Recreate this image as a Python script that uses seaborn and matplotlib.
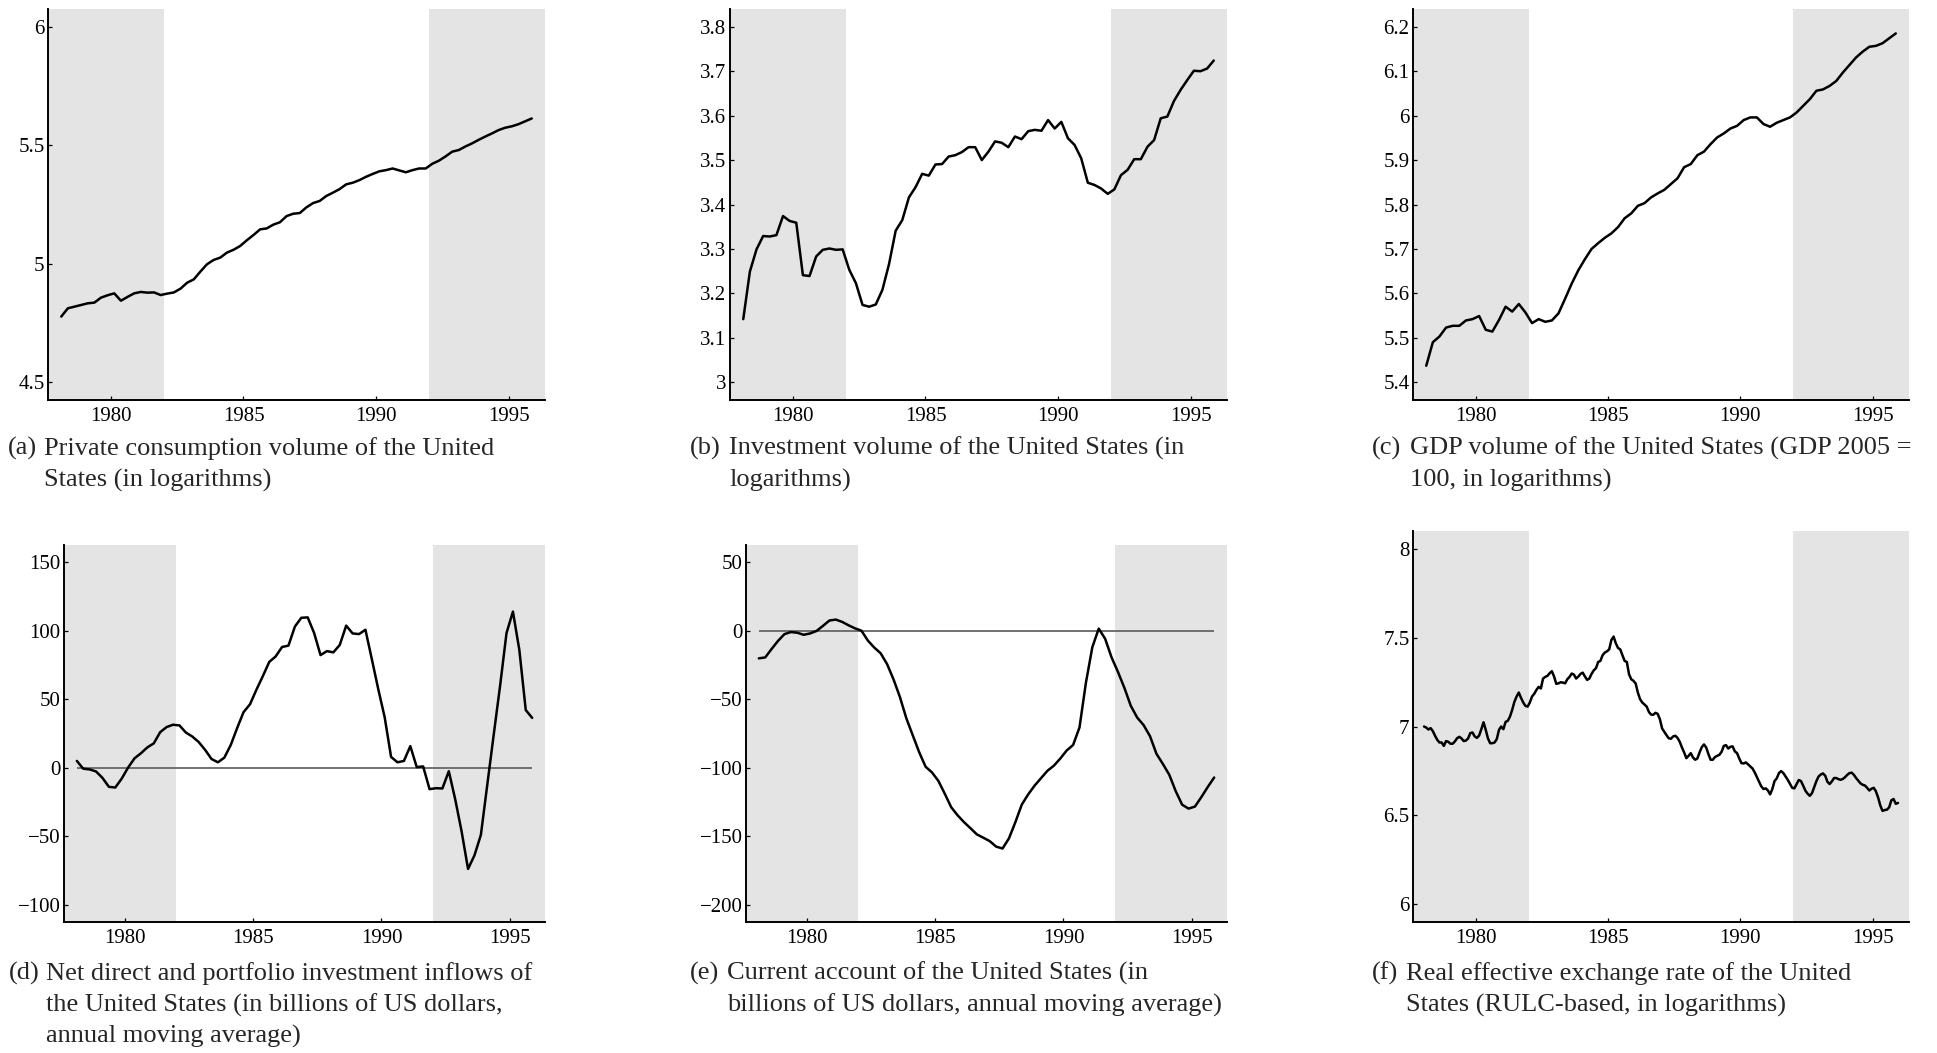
import numpy as np
import pandas as pd
import matplotlib
matplotlib.use("Agg")
import matplotlib.pyplot as plt
from matplotlib.ticker import FixedLocator, FuncFormatter
import seaborn as sns

# ---------------------------------------------------------------------------
# Data: United States, 1978-1995 (quarterly series; monthly exchange rate)
# ---------------------------------------------------------------------------
quarters = 1978.125 + 0.25 * np.arange(72)
months = 1978 + (np.arange(216) + 0.5) / 12

consumption = [
    4.777, 4.812, 4.819, 4.826, 4.833, 4.836, 4.857, 4.867, 4.875, 4.844,
    4.860, 4.875, 4.881, 4.878, 4.879, 4.868, 4.874, 4.879, 4.895, 4.920,
    4.934, 4.967, 4.998, 5.016, 5.026, 5.047, 5.059, 5.075, 5.099, 5.121,
    5.145, 5.149, 5.165, 5.175, 5.201, 5.211, 5.214, 5.238, 5.256, 5.265,
    5.286, 5.300, 5.315, 5.335, 5.342, 5.353, 5.367, 5.379, 5.390, 5.395,
    5.402, 5.394, 5.386, 5.395, 5.402, 5.402, 5.422, 5.435, 5.453, 5.473,
    5.480, 5.495, 5.508, 5.523, 5.537, 5.550, 5.564, 5.574, 5.580, 5.589,
    5.601, 5.613,
]

investment = [
    3.142, 3.249, 3.299, 3.329, 3.328, 3.331, 3.374, 3.363, 3.359, 3.241,
    3.239, 3.283, 3.298, 3.301, 3.298, 3.299, 3.253, 3.223, 3.174, 3.170,
    3.175, 3.208, 3.266, 3.341, 3.365, 3.416, 3.439, 3.469, 3.465, 3.490,
    3.491, 3.508, 3.511, 3.518, 3.529, 3.529, 3.500, 3.519, 3.542, 3.539,
    3.529, 3.553, 3.547, 3.565, 3.568, 3.566, 3.590, 3.571, 3.586, 3.549,
    3.534, 3.504, 3.449, 3.444, 3.436, 3.424, 3.434, 3.466, 3.478, 3.502,
    3.502, 3.530, 3.545, 3.594, 3.598, 3.633, 3.658, 3.680, 3.701, 3.700,
    3.706, 3.724,
]

gdp = [
    5.437, 5.490, 5.503, 5.523, 5.527, 5.527, 5.539, 5.542, 5.549, 5.518,
    5.514, 5.540, 5.570, 5.559, 5.576, 5.557, 5.533, 5.542, 5.536, 5.539,
    5.555, 5.588, 5.622, 5.652, 5.677, 5.700, 5.713, 5.725, 5.735, 5.749,
    5.769, 5.780, 5.797, 5.803, 5.816, 5.825, 5.833, 5.846, 5.859, 5.884,
    5.891, 5.911, 5.919, 5.936, 5.951, 5.960, 5.971, 5.977, 5.990, 5.996,
    5.996, 5.981, 5.975, 5.984, 5.990, 5.996, 6.007, 6.022, 6.037, 6.056,
    6.059, 6.067, 6.078, 6.097, 6.114, 6.131, 6.144, 6.155, 6.157, 6.163,
    6.174, 6.185,
]

capital_inflows = [
    5.0, -0.7, -1.2, -2.7, -7.4, -13.9, -14.4, -7.9, 0.2, 6.9,
    10.6, 14.9, 17.8, 26.0, 29.7, 31.4, 30.9, 25.7, 22.8, 18.8,
    13.1, 6.4, 4.0, 7.4, 16.6, 29.0, 40.6, 46.3, 56.9, 66.8,
    77.2, 81.2, 88.1, 89.1, 103.0, 109.4, 109.7, 98.3, 82.2, 85.1,
    84.2, 89.6, 103.7, 98.0, 97.5, 100.7, 79.2, 57.4, 36.9, 7.9,
    4.0, 5.0, 15.8, 0.5, 1.0, -15.6, -14.9, -15.1, -2.5, -23.0,
    -46.5, -73.8, -63.9, -49.0, -12.4, 24.0, 59.9, 98.3, 113.9, 85.9,
    42.1, 36.4,
]

current_account = [
    -20.2, -19.5, -13.3, -7.4, -2.5, -1.0, -1.5, -3.0, -2.0, -0.2,
    3.5, 7.4, 8.1, 6.4, 3.9, 1.7, 0.0, -7.2, -12.3, -16.5,
    -24.4, -35.5, -48.4, -63.9, -76.3, -88.6, -99.2, -103.4, -109.6, -119.0,
    -128.8, -134.7, -139.7, -144.1, -148.6, -151.0, -153.5, -157.5, -158.9, -151.5,
    -139.7, -126.9, -119.4, -113.0, -107.6, -102.2, -98.5, -93.3, -87.4, -83.4,
    -70.6, -38.0, -12.1, 1.5, -5.9, -19.5, -30.1, -41.7, -54.8, -63.4,
    -68.9, -77.0, -89.8, -97.2, -105.1, -117.0, -126.9, -129.8, -128.3, -121.4,
    -114.0, -107.1,
]

real_exchange_rate = [
    7.000, 6.994, 6.983, 6.991, 6.974, 6.948, 6.925, 6.910, 6.910, 6.891,
    6.918, 6.914, 6.903, 6.903, 6.916, 6.934, 6.942, 6.933, 6.918, 6.921,
    6.933, 6.963, 6.966, 6.944, 6.936, 6.949, 6.985, 7.024, 6.981, 6.933,
    6.906, 6.906, 6.910, 6.929, 6.981, 7.000, 6.985, 7.026, 7.032, 7.056,
    7.094, 7.139, 7.169, 7.191, 7.161, 7.135, 7.116, 7.112, 7.135, 7.169,
    7.184, 7.206, 7.223, 7.214, 7.270, 7.279, 7.285, 7.300, 7.311, 7.281,
    7.240, 7.243, 7.249, 7.247, 7.243, 7.266, 7.279, 7.298, 7.292, 7.270,
    7.281, 7.296, 7.303, 7.281, 7.262, 7.270, 7.296, 7.316, 7.328, 7.363,
    7.369, 7.401, 7.416, 7.423, 7.434, 7.487, 7.506, 7.468, 7.442, 7.434,
    7.401, 7.369, 7.363, 7.294, 7.266, 7.257, 7.242, 7.191, 7.154, 7.135,
    7.124, 7.112, 7.082, 7.067, 7.066, 7.077, 7.071, 7.041, 6.989, 6.970,
    6.951, 6.934, 6.931, 6.944, 6.948, 6.936, 6.914, 6.882, 6.854, 6.822,
    6.835, 6.850, 6.826, 6.813, 6.820, 6.854, 6.884, 6.899, 6.882, 6.845,
    6.813, 6.813, 6.828, 6.835, 6.841, 6.858, 6.891, 6.895, 6.876, 6.886,
    6.888, 6.860, 6.850, 6.820, 6.794, 6.792, 6.798, 6.787, 6.775, 6.764,
    6.742, 6.715, 6.689, 6.663, 6.648, 6.652, 6.640, 6.618, 6.648, 6.693,
    6.708, 6.738, 6.749, 6.738, 6.719, 6.700, 6.678, 6.655, 6.652, 6.676,
    6.699, 6.693, 6.667, 6.639, 6.622, 6.610, 6.625, 6.659, 6.693, 6.719,
    6.730, 6.736, 6.723, 6.689, 6.676, 6.691, 6.710, 6.710, 6.704, 6.700,
    6.705, 6.715, 6.728, 6.738, 6.740, 6.728, 6.710, 6.695, 6.680, 6.672,
    6.668, 6.655, 6.640, 6.650, 6.655, 6.635, 6.600, 6.555, 6.525, 6.530,
    6.532, 6.545, 6.585, 6.592, 6.565, 6.570,
]

# Shaded periods (start, end) in years
shaded_periods = [(1977.625, 1982.0), (1992.0, 1996.375)]

year_ticks = [1980, 1985, 1990, 1995]
ticks_a = [4.5, 5.0, 5.5, 6.0]
ticks_b = [3.0, 3.1, 3.2, 3.3, 3.4, 3.5, 3.6, 3.7, 3.8]
ticks_c = [5.4, 5.5, 5.6, 5.7, 5.8, 5.9, 6.0, 6.1, 6.2]
ticks_d = [-100, -50, 0, 50, 100, 150]
ticks_e = [-200, -150, -100, -50, 0, 50]
ticks_f = [6.0, 6.5, 7.0, 7.5, 8.0]

captions = {
    "a": ["Private consumption volume of the United",
          "States (in logarithms)"],
    "b": ["Investment volume of the United States (in",
          "logarithms)"],
    "c": ["GDP volume of the United States (GDP 2005 =",
          "100, in logarithms)"],
    "d": ["Net direct and portfolio investment inflows of",
          "the United States (in billions of US dollars,",
          "annual moving average)"],
    "e": ["Current account of the United States (in",
          "billions of US dollars, annual moving average)"],
    "f": ["Real effective exchange rate of the United",
          "States (RULC-based, in logarithms)"],
}

# ---------------------------------------------------------------------------
# Style
# ---------------------------------------------------------------------------
sns.set_style("ticks")
serif = ["Liberation Serif", "DejaVu Serif"]
plt.rcParams["font.family"] = serif
plt.rcParams["axes.unicode_minus"] = True

W, H = 1937, 1053
fig = plt.figure(figsize=(W / 100, H / 100), dpi=100)
fig.patch.set_facecolor("white")


def rect(left, top, right, bottom):
    """Axes rectangle from pixel edges (origin top-left)."""
    return [left / W, 1 - bottom / H, (right - left) / W, (bottom - top) / H]


panels = [
    # key, x, y, yticks, zero line, axes box (px), caption x (px), caption baseline (px)
    ("a", quarters, consumption, ticks_a, False, (48, 9, 545, 400), (8, 44), 455),
    ("b", quarters, investment, ticks_b, False, (730, 9, 1227, 400), (690, 729), 455),
    ("c", quarters, gdp, ticks_c, False, (1413, 9, 1909, 400), (1372, 1410), 455),
    ("d", quarters, capital_inflows, ticks_d, True, (64, 545, 545, 922), (9, 46), 980),
    ("e", quarters, current_account, ticks_e, True, (746, 545, 1227, 922), (690, 727), 980),
    ("f", months, real_exchange_rate, ticks_f, False, (1413, 531, 1909, 922), (1372, 1406), 980),
]

fmt = FuncFormatter(lambda v, pos: f"{v:g}".replace("-", "\u2212"))
line_gap = 31.5
caption_size = 19

for key, t, values, yticks, zero_line, box, cap_x, cap_y in panels:
    ax = fig.add_axes(rect(*box))
    t = np.asarray(t)
    values = np.asarray(values, dtype=float)

    for start, end in shaded_periods:
        ax.axvspan(start, end, color="#e4e4e4", lw=0, zorder=0)

    if zero_line:
        ax.hlines(0, t[0], t[-1], color="#666666", lw=1.3, zorder=1)

    df = pd.DataFrame({"year": t, "value": values})
    sns.lineplot(data=df, x="year", y="value", ax=ax, color="black",
                 linewidth=1.8, estimator=None, zorder=2)

    lo, hi = min(yticks), max(yticks)
    pad = 0.05 * (hi - lo)
    ax.set_ylim(lo - pad, hi + pad)
    ax.set_xlim(quarters[0] - 0.5, quarters[-1] + 0.5)

    ax.xaxis.set_major_locator(FixedLocator(year_ticks))
    ax.yaxis.set_major_locator(FixedLocator(yticks))
    ax.yaxis.set_major_formatter(fmt)
    ax.xaxis.set_major_formatter(fmt)
    ax.set_xlabel("")
    ax.set_ylabel("")

    ax.tick_params(axis="both", direction="in", length=2.6, width=0.9,
                   color="black", labelsize=15, labelcolor="black")
    ax.tick_params(axis="x", pad=5)
    ax.tick_params(axis="y", pad=2.5)
    for lbl in ax.get_xticklabels() + ax.get_yticklabels():
        lbl.set_fontfamily(serif)

    for side in ("top", "right"):
        ax.spines[side].set_visible(False)
    for side in ("left", "bottom"):
        ax.spines[side].set_color("black")
        ax.spines[side].set_linewidth(1.4)
    ax.set_facecolor("white")
    ax.grid(False)

    # Caption with hanging indent
    fig.text(cap_x[0] / W, 1 - cap_y / H, f"({key})", fontsize=caption_size,
             ha="left", va="baseline", family=serif)
    for i, line in enumerate(captions[key]):
        fig.text(cap_x[1] / W, 1 - (cap_y + i * line_gap) / H, line,
                 fontsize=caption_size, ha="left", va="baseline", family=serif)

fig.savefig("out.png", dpi=100, facecolor="white")
